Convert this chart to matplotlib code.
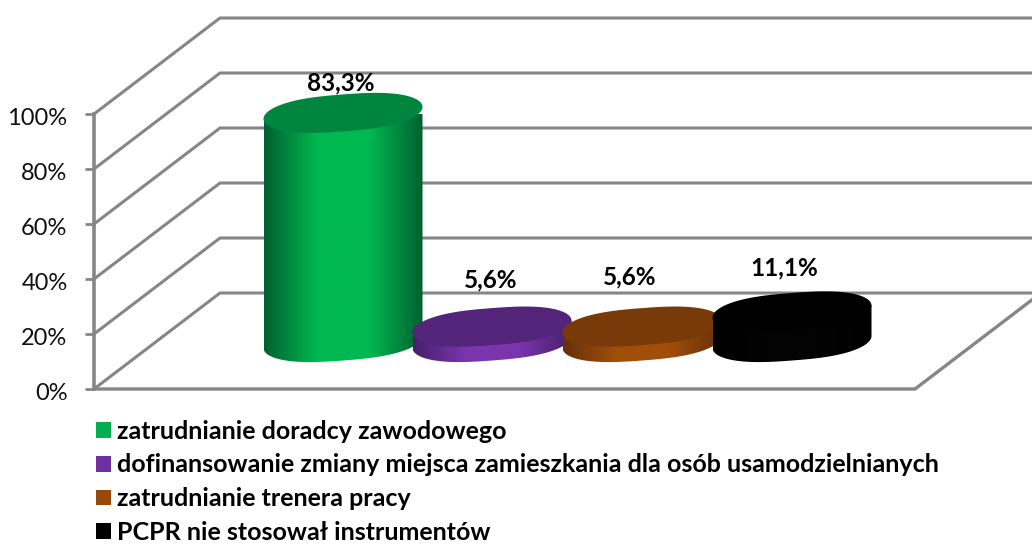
import numpy as np
import matplotlib
matplotlib.use('Agg')
import matplotlib.pyplot as plt
from matplotlib.colors import LinearSegmentedColormap
from matplotlib.patches import Patch, Polygon
from matplotlib.transforms import ScaledTranslation

labels = ['zatrudnianie doradcy zawodowego',
          'dofinansowanie zmiany miejsca zamieszkania dla osób usamodzielnianych',
          'zatrudnianie trenera pracy',
          'PCPR nie stosował instrumentów']
values = [83.3, 5.6, 5.6, 11.1]
value_labels = ['83,3%', '5,6%', '5,6%', '11,1%']
ticks = [0, 20, 40, 60, 80, 100]
tick_labels = ['0%', '20%', '40%', '60%', '80%', '100%']

W, H = 1032, 545
X0, X1 = 94, 915      # front floor edge (px)
Y0, Y100 = 389, 114   # 0% and 100% (px)
PX = (Y0 - Y100) / 100.  # px per percent
DEPTH_X, DEPTH_Y = 126, 96 / PX  # back wall offset
GRID = '#868686'

centers = [283, 432, 582, 732]  # cylinder x on the front plane
MID_X, MID_Y = 60, 47 / PX      # cylinders stand mid depth
RX, RY, SKEW = 79.5, 18.5 / PX, 6.0 / PX
side_dark = ['#006030', '#45206A', '#66300A', '#000000']
side_light = ['#00B850', '#7A35AE', '#A04E0A', '#030303']
top_color = ['#00853F', '#52247A', '#773A08', '#000000']
legend_color = ['#00B050', '#7030A0', '#984807', '#000000']
label_dx = [-2, -1, -12, -8]   # px
label_dy = [30, 47, 50, 44]   # px


def blunt(t):
    # ends of the ellipse are rounder in the original than a plain ellipse
    return np.sign(np.cos(t)) * np.abs(np.cos(t)) ** 0.75


fig = plt.figure(figsize=(W / 100., H / 100.), dpi=100)
ax = fig.add_axes([X0 / W, 1 - Y0 / H, (X1 - X0) / W, (Y0 - Y100) / H])
ax.set_xlim(X0, X1)
ax.set_ylim(0, 100)
ax.patch.set_visible(False)
for s in ax.spines.values():
    s.set_visible(False)
plt.rcParams['font.family'] = ['Lato', 'DejaVu Sans']

# walls and floor
for t in ticks:
    ax.plot([X0, X0 + DEPTH_X, W + 5], [t, t + DEPTH_Y, t + DEPTH_Y], color=GRID,
            lw=2.2, clip_on=False, zorder=1, solid_joinstyle='miter')
ax.plot([X0, X1, X1 + DEPTH_X], [0, 0, DEPTH_Y], color=GRID, lw=2.4, clip_on=False, zorder=1,
        solid_joinstyle='miter')
ax.plot([X0, X0], [0, 100], color=GRID, lw=2.6, clip_on=False, zorder=1)
ax.set_xticks([])
ax.set_yticks(ticks)
ax.set_yticklabels(tick_labels, fontsize=17, color='#101010', family=['Lato', 'DejaVu Sans'])
ax.tick_params(axis='y', length=6.5, width=2, color=GRID, pad=12.5)
shift = ScaledTranslation(0, -2.5 / 100., fig.dpi_scale_trans)
for lab in ax.get_yticklabels():
    lab.set_transform(lab.get_transform() + shift)

# cylinders
t_all = np.linspace(0, 2 * np.pi, 300)
t_front = np.linspace(0, np.pi, 150)
for i in range(len(values)):
    cx = centers[i] + MID_X
    y_bot = MID_Y
    y_top = MID_Y + values[i]
    # y axis points up, so front of ellipse is the lower half
    x_low = cx + RX * blunt(t_front)
    y_low = y_bot - RY * np.sin(t_front) + SKEW * blunt(t_front)
    side = np.vstack([[cx + RX, y_top + SKEW], np.column_stack([x_low, y_low]), [cx - RX, y_top - SKEW]])
    poly = Polygon(side, closed=True, fc='none', ec='none', zorder=2 + i)
    ax.add_patch(poly)
    cmap = LinearSegmentedColormap.from_list('c', [side_dark[i], side_light[i], side_light[i], side_dark[i]])
    grad = np.linspace(0, 1, 256).reshape(1, -1)
    im = ax.imshow(grad, cmap=cmap, extent=[cx - RX, cx + RX, y_bot - 30, y_top + 30], aspect='auto',
                   zorder=2 + i, clip_on=True)
    im.set_clip_path(poly)
    x_top = cx + RX * blunt(t_all)
    y_t = y_top + RY * np.sin(t_all) + SKEW * blunt(t_all)
    ax.fill(x_top, y_t, color=top_color[i], lw=0, zorder=2.5 + i, clip_on=False)
    ax.annotate(value_labels[i], (cx, y_top), xytext=(label_dx[i] * 0.72, label_dy[i] * 0.72),
                textcoords='offset points', ha='center', va='center', fontsize=17.5,
                fontweight='bold', color='black', zorder=10, annotation_clip=False)
ax.set_xlim(X0, X1)
ax.set_ylim(0, 100)

handles = [Patch(fc=c, ec='none') for c in legend_color]
fig.legend(handles, labels, loc='lower left', bbox_to_anchor=(96 / W, 1 / H), frameon=False,
           prop={'family': ['Lato', 'DejaVu Sans'], 'weight': 'bold', 'size': 18},
           handlelength=0.6, handleheight=0.6, handletextpad=0.24, labelspacing=0.43,
           borderaxespad=0, borderpad=0)

fig.savefig('out.png', dpi=100)
